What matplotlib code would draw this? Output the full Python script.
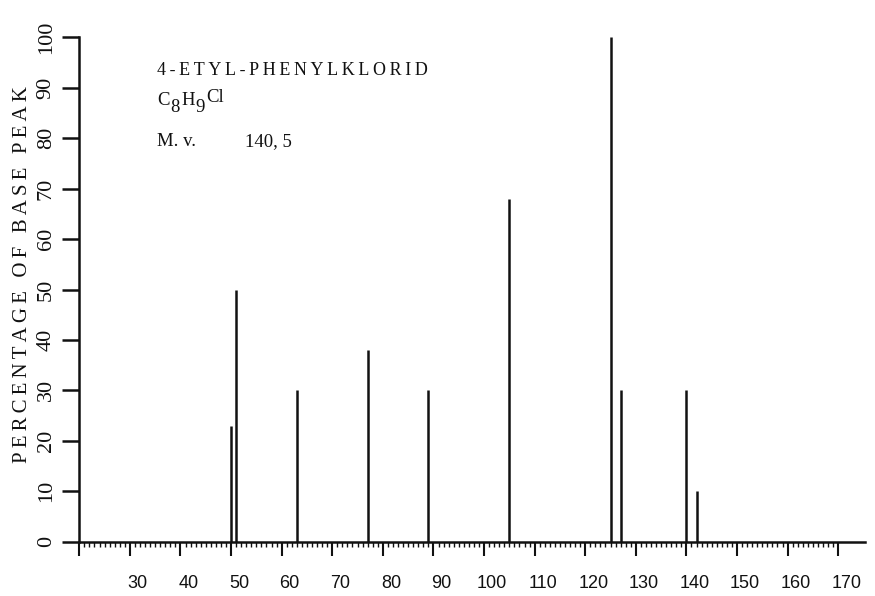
import matplotlib.pyplot as plt
import matplotlib.transforms as mtransforms
import numpy as np

# mass spectrum peaks
mz = [50, 51, 63, 77, 89, 105, 125, 127, 140, 142]
intensity = [23, 50, 30, 38, 30, 68, 100, 30, 30, 10]

x_major = list(range(20, 171, 10))
x_labels = ["" if t == 20 else str(t) for t in x_major]
y_major = list(range(0, 101, 10))

compound = "4-ETYL-PHENYLKLORID"
# formula pieces: text, vertical shift in pixels (subscripts hang low)
formula = [("C", 0), ("8", -7), ("H", 0), ("9", -7), ("Cl", 3)]
mass_label = "M. v."
mass_value = "140, 5"

SERIF = ["Liberation Serif", "DejaVu Serif"]
SANS = ["Liberation Sans", "DejaVu Sans"]
INK = "#111111"


def spaced(s):
	# typewriter-like letter spacing
	return "\u2009".join(s)


fig = plt.figure(figsize=(8.75, 5.96), dpi=100)
ax = fig.add_axes([0.0906, 0.0911, 0.898, 0.8463])

ax.vlines(mz, 0, intensity, color=INK, linewidth=1.8)

ax.set_xlim(20, 175.3)
ax.set_ylim(0, 100)

for side in ("top", "right"):
	ax.spines[side].set_visible(False)
for side in ("left", "bottom"):
	ax.spines[side].set_linewidth(1.8)
	ax.spines[side].set_color(INK)

ax.set_xticks(x_major)
ax.set_xticklabels(x_labels, family=SANS, fontsize=13, color=INK)
ax.set_xticks(np.arange(20, 171, 1), minor=True)
ax.tick_params(axis="x", which="major", direction="out", length=10, width=1.5, pad=14, colors=INK)
ax.tick_params(axis="x", which="minor", direction="out", length=3.5, width=1.0, colors=INK)

# labels in the scan sit a little right of their ticks
shift = mtransforms.ScaledTranslation(8 / 100, 0, fig.dpi_scale_trans)
for lbl in ax.get_xticklabels():
	lbl.set_transform(lbl.get_transform() + shift)

ax.set_yticks(y_major)
ax.set_yticklabels([str(v) for v in y_major], family=SERIF, fontsize=16,
	rotation=90, va="center", color=INK)
ax.tick_params(axis="y", direction="out", length=12, width=1.8, pad=5, colors=INK)

ax.set_ylabel(spaced("PERCENTAGE OF BASE PEAK"), family=SERIF, fontsize=15, color=INK)
ax.yaxis.set_label_coords(-0.06, 0.53)

# annotation block
ax.text(35.4, 92.5, spaced(compound), family=SERIF, fontsize=13, color=INK, va="baseline")

renderer = fig.canvas.get_renderer()
dx = 0
for piece, dy in formula:
	tr = mtransforms.offset_copy(ax.transData, fig=fig, x=dx, y=dy, units="dots")
	t = ax.text(35.4, 86.6, piece, transform=tr, family=SERIF, fontsize=13.5,
		color=INK, va="baseline")
	dx += t.get_window_extent(renderer).width + 1

ax.text(35.4, 78.5, mass_label, family=SERIF, fontsize=13.5, color=INK, va="baseline")
ax.text(52.7, 78.5, mass_value, family=SERIF, fontsize=13.5, color=INK, va="baseline")

fig.savefig("out.png", dpi=100)
